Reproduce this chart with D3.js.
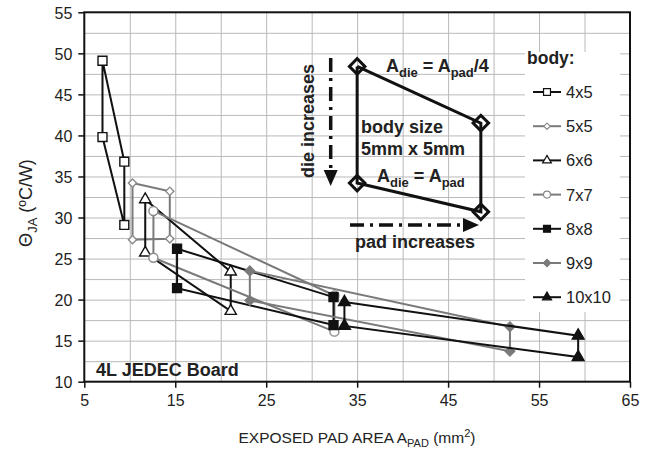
<!DOCTYPE html>
<html lang="en">
<head>
<meta charset="UTF-8">
<title>Theta JA vs exposed pad area</title>
<script src="https://cdn.jsdelivr.net/npm/d3@7/dist/d3.min.js"></script>
<style>
  body { margin: 0; background: #fff; }
  svg text { font-family: "Liberation Sans", Arial, sans-serif; fill: #222; }
  .grid line { stroke: #b9b9b9; stroke-width: 1; }
  .grid path { display: none; }
  .axis path { display: none; }
  .axis line { stroke: #111; stroke-width: 1.5; }
  .axis text { font-size: 16px; fill: #222; }
</style>
</head>
<body>
<div id="chart"></div>
<script>
// body sizes and the four corners of each one, in drawing order:
// small pad / small die, large pad / small die, large pad / large die, small pad / large die
const bodies = ["4x5", "5x5", "6x6", "7x7", "8x8", "9x9", "10x10"]
const padArea = [
  [7.0, 9.4, 9.4, 7.0],
  [10.3, 14.4, 14.4, 10.3],
  [11.7, 21.1, 21.1, 11.7],
  [12.6, 32.5, 32.5, 12.6],
  [15.2, 32.4, 32.4, 15.2],
  [23.2, 51.8, 51.8, 23.2],
  [33.6, 59.3, 59.3, 33.6]
]
const thetaJA = [
  [49.1, 36.8, 29.1, 39.8],
  [34.2, 33.2, 27.4, 27.3],
  [32.2, 23.4, 18.6, 25.7],
  [30.8, 20.5, 16.1, 25.1],
  [26.2, 20.3, 16.9, 21.4],
  [23.5, 16.7, 13.7, 19.9],
  [19.7, 15.6, 13.0, 16.8]
]
// schematic 5x5 example drawn in the inset
const insetPad = [35.0, 48.6, 48.6, 35.0]
const insetTheta = [48.4, 41.5, 30.7, 34.2]

const xTicks = [5, 15, 25, 35, 45, 55, 65]
const yTicks = [10, 15, 20, 25, 30, 35, 40, 45, 50, 55]

const width = 652, height = 456
const pLeft = 84.3, pRight = 630, pTop = 12.3, pBottom = 381.7

const svg = d3.select('#chart').append('svg').attr('width', width).attr('height', height)

const x = d3.scaleLinear().domain([5, 65]).range([pLeft, pRight])
const y = d3.scaleLinear().domain([10, 55]).range([pBottom, pTop])

// grid: vertical every 5, horizontal every 2.5
svg.append('g').attr('class', 'grid')
  .attr('transform', `translate(0,${pBottom})`)
  .call(d3.axisBottom(x).tickValues(d3.range(10, 65, 5)).tickSize(-(pBottom - pTop)).tickFormat(''))
svg.append('g').attr('class', 'grid')
  .attr('transform', `translate(${pLeft},0)`)
  .call(d3.axisLeft(y).tickValues(d3.range(12.5, 55, 2.5)).tickSize(-(pRight - pLeft)).tickFormat(''))

// axes
svg.append('g').attr('class', 'axis')
  .attr('transform', `translate(0,${pBottom})`)
  .call(d3.axisBottom(x).tickValues(xTicks).tickSize(6).tickPadding(7).tickFormat(d3.format('d')))
svg.append('g').attr('class', 'axis')
  .attr('transform', `translate(${pLeft},0)`)
  .call(d3.axisLeft(y).tickValues(yTicks).tickSize(6).tickPadding(6).tickFormat(d3.format('d')))
  .selectAll('text').attr('dy', '0.36em')

svg.append('rect')
  .attr('x', pLeft).attr('y', pTop).attr('width', pRight - pLeft).attr('height', pBottom - pTop)
  .attr('fill', 'none').attr('stroke', '#111').attr('stroke-width', 2)

// series styles
const gray = '#7a7a7a'
const styles = {
  '4x5':   { line: '#111', sym: d3.symbolSquare,   size: 80, fill: '#fff', stroke: '#111', rot: 0 },
  '5x5':   { line: gray,   sym: d3.symbolSquare,   size: 34, fill: '#fff', stroke: '#8a8a8a', rot: 45 },
  '6x6':   { line: '#111', sym: d3.symbolTriangle, size: 55, fill: '#fff', stroke: '#111', rot: 0 },
  '7x7':   { line: gray,   sym: d3.symbolCircle,   size: 64, fill: '#fff', stroke: '#8a8a8a', rot: 0 },
  '8x8':   { line: '#111', sym: d3.symbolSquare,   size: 80, fill: '#111', stroke: '#111', rot: 0 },
  '9x9':   { line: gray,   sym: d3.symbolSquare,   size: 46, fill: gray,   stroke: gray,   rot: 45 },
  '10x10': { line: '#111', sym: d3.symbolTriangle, size: 60, fill: '#111', stroke: '#111', rot: 0 }
}

const line = d3.line().x(d => x(d[0])).y(d => y(d[1]))

bodies.forEach((b, i) => {
  const pts = padArea[i].map((p, j) => [p, thetaJA[i][j]])
  const st = styles[b]
  const g = svg.append('g')
  g.append('path').attr('d', line(pts.concat([pts[0]])))
    .attr('fill', 'none').attr('stroke', st.line).attr('stroke-width', 2)
  g.selectAll('path.m').data(pts).join('path').attr('class', 'm')
    .attr('d', d3.symbol().type(st.sym).size(st.size))
    .attr('transform', d => `translate(${x(d[0])},${y(d[1])}) rotate(${st.rot})`)
    .attr('fill', st.fill).attr('stroke', st.stroke).attr('stroke-width', 1.4)
})

// inset schematic
const ins = insetPad.map((p, j) => [p, insetTheta[j]])
svg.append('path').attr('d', line(ins.concat([ins[0]])))
  .attr('fill', 'none').attr('stroke', '#111').attr('stroke-width', 3)
svg.selectAll('path.im').data(ins).join('path').attr('class', 'im')
  .attr('d', d3.symbol().type(d3.symbolSquare).size(120))
  .attr('transform', d => `translate(${x(d[0])},${y(d[1])}) rotate(45)`)
  .attr('fill', 'none').attr('stroke', '#111').attr('stroke-width', 3)

const note = svg.append('g').attr('font-weight', 'bold')
// parts: [text, shift] with shift 0 = normal, 1 = go down to subscript, -1 = back up from subscript
function eq(tx, ty, parts) {
  const t = note.append('text').attr('x', tx).attr('y', ty)
  parts.forEach(p => {
    t.append('tspan').text(p[0]).attr('font-size', p[1] === 1 ? 13 : 18)
      .attr('dy', p[1] === 1 ? 5 : p[1] === -1 ? -5 : 0)
  })
}
eq(386, 72, [['A', 0], ['die', 1], [' = A', -1], ['pad', 1], ['/4', -1]])
eq(377, 182, [['A', 0], ['die', 1], [' = A', -1], ['pad', 1]])
note.append('text').attr('x', 361).attr('y', 133).attr('font-size', 18).text('body size')
note.append('text').attr('x', 361).attr('y', 155).attr('font-size', 18).text('5mm x 5mm')
note.append('text').attr('x', 355).attr('y', 248).attr('font-size', 18).text('pad increases')
note.append('text').attr('transform', 'translate(314,121) rotate(-90)')
  .attr('text-anchor', 'middle').attr('font-size', 18).text('die increases')

// dash-dot arrows
svg.append('line').attr('x1', 330.7).attr('y1', 58).attr('x2', 330.7).attr('y2', 172)
  .attr('stroke', '#111').attr('stroke-width', 3.5).attr('stroke-dasharray', '14,6,3,6')
svg.append('path').attr('d', 'M323.7,170L337.7,170L330.7,186Z').attr('fill', '#111')
svg.append('line').attr('x1', 350).attr('y1', 225).attr('x2', 465).attr('y2', 225)
  .attr('stroke', '#111').attr('stroke-width', 3.5).attr('stroke-dasharray', '14,6,3,6')
svg.append('path').attr('d', 'M463,218L463,232L479,225Z').attr('fill', '#111')

svg.append('text').attr('x', 96).attr('y', 376).attr('font-size', 18).attr('font-weight', 'bold')
  .text('4L JEDEC Board')

// legend
const lg = svg.append('g')
lg.append('rect').attr('x', 525).attr('y', 52).attr('width', 95).attr('height', 260).attr('fill', '#fff')
lg.append('text').attr('x', 527).attr('y', 64).attr('font-size', 17.5).attr('font-weight', 'bold').text('body:')
bodies.forEach((b, i) => {
  const st = styles[b]
  const ly = 92 + i * 34.2
  lg.append('line').attr('x1', 533).attr('x2', 561).attr('y1', ly).attr('y2', ly)
    .attr('stroke', st.line).attr('stroke-width', 2)
  lg.append('path').attr('d', d3.symbol().type(st.sym).size(st.size * 0.6))
    .attr('transform', `translate(547,${ly}) rotate(${st.rot})`)
    .attr('fill', st.fill).attr('stroke', st.stroke).attr('stroke-width', 1.2)
  lg.append('text').attr('x', 566).attr('y', ly + 6).attr('font-size', 16.5).text(b)
})

// axis titles
const xt = svg.append('text').attr('x', 357).attr('y', 443).attr('text-anchor', 'middle').attr('font-size', 15.5)
xt.append('tspan').text('EXPOSED PAD AREA A')
xt.append('tspan').text('PAD').attr('font-size', 11).attr('dy', 4)
xt.append('tspan').text(' (mm').attr('dy', -4)
xt.append('tspan').text('2').attr('font-size', 11).attr('dy', -6)
xt.append('tspan').text(')').attr('dy', 6)

const yt = svg.append('text').attr('transform', 'translate(32,203) rotate(-90)')
  .attr('text-anchor', 'middle').attr('font-size', 18)
yt.append('tspan').text('\u0398')
yt.append('tspan').text('JA').attr('font-size', 13).attr('dy', 5)
yt.append('tspan').text(' (\u00baC/W)').attr('dy', -5)
</script>
</body>
</html>
